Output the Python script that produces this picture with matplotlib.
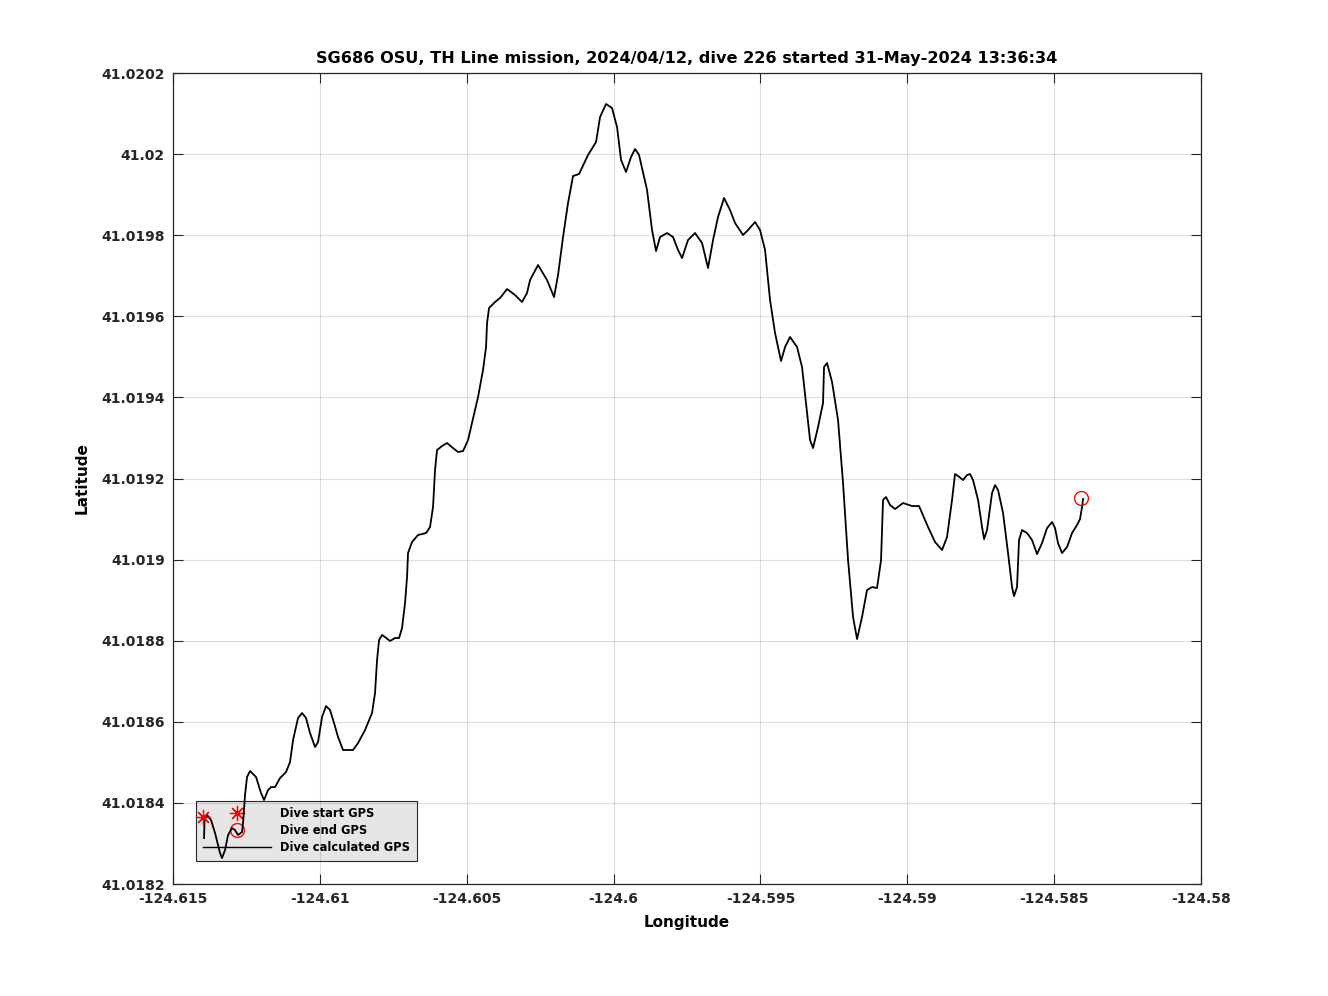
import matplotlib
matplotlib.use("Agg")
import matplotlib.pyplot as plt
from matplotlib.lines import Line2D

# glider track (dive calculated GPS)
lon = [
    -124.613945, -124.613928, -124.613842, -124.613706, -124.613570, -124.613400,
    -124.613332, -124.613230, -124.613127, -124.612991, -124.612889, -124.612787,
    -124.612651, -124.612617, -124.612549, -124.612481, -124.612378, -124.612174,
    -124.612004, -124.611902, -124.611766, -124.611663, -124.611527, -124.611357,
    -124.611153, -124.611017, -124.610914, -124.610744, -124.610608, -124.610472,
    -124.610336, -124.610165, -124.610063, -124.609927, -124.609791, -124.609655,
    -124.609519, -124.609382, -124.609212, -124.608872, -124.608701, -124.608463,
    -124.608225, -124.608123, -124.608054, -124.607986, -124.607884, -124.607782,
    -124.607612, -124.607442, -124.607305, -124.607203, -124.607101, -124.607033,
    -124.606999, -124.606863, -124.606659, -124.606386, -124.606250, -124.606148,
    -124.606080, -124.606012, -124.605841, -124.605671, -124.605467, -124.605297,
    -124.605126, -124.604956, -124.604820, -124.604616, -124.604446, -124.604343,
    -124.604309, -124.604241, -124.604037, -124.603867, -124.603628, -124.603356,
    -124.603118, -124.602948, -124.602845, -124.602573, -124.602267, -124.602028,
    -124.601892, -124.601722, -124.601552, -124.601381, -124.601177, -124.600871,
    -124.600598, -124.600462, -124.600258, -124.600054, -124.599883, -124.599747,
    -124.599577, -124.599407, -124.599270, -124.599134, -124.598862, -124.598692,
    -124.598555, -124.598419, -124.598181, -124.597977, -124.597806, -124.597670,
    -124.597466, -124.597228, -124.596989, -124.596785, -124.596615, -124.596445,
    -124.596240, -124.596036, -124.595866, -124.595593, -124.595423, -124.595185,
    -124.595015, -124.594844, -124.594674, -124.594504, -124.594300, -124.594163,
    -124.593993, -124.593755, -124.593585, -124.593414, -124.593312, -124.593210,
    -124.593040, -124.592870, -124.592836, -124.592733, -124.592563, -124.592359,
    -124.592189, -124.592018, -124.591848, -124.591712, -124.591542, -124.591372,
    -124.591201, -124.591031, -124.590895, -124.590827, -124.590725, -124.590589,
    -124.590418, -124.590146, -124.589840, -124.589601, -124.589295, -124.589056,
    -124.588818, -124.588648, -124.588478, -124.588376, -124.588273, -124.588103,
    -124.587967, -124.587865, -124.587763, -124.587592, -124.587456, -124.587388,
    -124.587286, -124.587116, -124.587014, -124.586911, -124.586741, -124.586571,
    -124.586435, -124.586367, -124.586265, -124.586197, -124.586094, -124.585924,
    -124.585754, -124.585584, -124.585413, -124.585243, -124.585073, -124.584971,
    -124.584869, -124.584733, -124.584562, -124.584392, -124.584222, -124.584120,
    -124.584052, -124.584017,
]
lat = [
    41.0183134, 41.0183578, 41.0183702, 41.0183578, 41.0183258, 41.0182764,
    41.0182641, 41.0182838, 41.0183208, 41.0183381, 41.0183332, 41.0183208,
    41.0183282, 41.0183504, 41.0184195, 41.0184639, 41.0184787, 41.0184639,
    41.0184244, 41.0184072, 41.0184318, 41.0184392, 41.0184392, 41.0184614,
    41.0184762, 41.0185009, 41.0185551, 41.0186094, 41.0186217, 41.0186094,
    41.0185724, 41.0185379, 41.0185502, 41.0186118, 41.0186390, 41.0186291,
    41.0185970, 41.0185625, 41.0185305, 41.0185305, 41.0185477, 41.0185798,
    41.0186217, 41.0186710, 41.0187524, 41.0188017, 41.0188141, 41.0188091,
    41.0187993, 41.0188067, 41.0188067, 41.0188313, 41.0188930, 41.0189571,
    41.0190163, 41.0190434, 41.0190607, 41.0190656, 41.0190804, 41.0191297,
    41.0192210, 41.0192703, 41.0192801, 41.0192875, 41.0192752, 41.0192654,
    41.0192678, 41.0192949, 41.0193369, 41.0194010, 41.0194676, 41.0195243,
    41.0195835, 41.0196205, 41.0196353, 41.0196451, 41.0196673, 41.0196525,
    41.0196353, 41.0196575, 41.0196895, 41.0197265, 41.0196895, 41.0196476,
    41.0197019, 41.0197956, 41.0198794, 41.0199460, 41.0199509, 41.0199978,
    41.0200298, 41.0200915, 41.0201236, 41.0201137, 41.0200668, 41.0199855,
    41.0199559, 41.0199929, 41.0200126, 41.0199978, 41.0199115, 41.0198128,
    41.0197610, 41.0197956, 41.0198054, 41.0197956, 41.0197635, 41.0197438,
    41.0197882, 41.0198054, 41.0197808, 41.0197191, 41.0197882, 41.0198449,
    41.0198917, 41.0198621, 41.0198301, 41.0198005, 41.0198128, 41.0198326,
    41.0198128, 41.0197635, 41.0196402, 41.0195588, 41.0194898, 41.0195243,
    41.0195490, 41.0195243, 41.0194750, 41.0193615, 41.0192949, 41.0192752,
    41.0193270, 41.0193862, 41.0194750, 41.0194848, 41.0194380, 41.0193443,
    41.0191889, 41.0189990, 41.0188585, 41.0188042, 41.0188585, 41.0189250,
    41.0189324, 41.0189300, 41.0189990, 41.0191470, 41.0191544, 41.0191347,
    41.0191248, 41.0191396, 41.0191322, 41.0191322, 41.0190804, 41.0190434,
    41.0190237, 41.0190557, 41.0191470, 41.0192111, 41.0192062, 41.0191963,
    41.0192086, 41.0192111, 41.0191963, 41.0191470, 41.0190804, 41.0190508,
    41.0190730, 41.0191642, 41.0191840, 41.0191716, 41.0191149, 41.0190163,
    41.0189324, 41.0189102, 41.0189324, 41.0190483, 41.0190730, 41.0190656,
    41.0190483, 41.0190138, 41.0190409, 41.0190779, 41.0190927, 41.0190779,
    41.0190409, 41.0190163, 41.0190311, 41.0190656, 41.0190853, 41.0191001,
    41.0191297, 41.0191494,
]

start_gps = (-124.613979, 41.0183652)
end_gps = (-124.584086, 41.0191519)

xticks = [-124.615, -124.61, -124.605, -124.6, -124.595, -124.59, -124.585, -124.58]
xticklabels = ['-124.615', '-124.61', '-124.605', '-124.6', '-124.595', '-124.59', '-124.585', '-124.58']
yticks = [41.0182, 41.0184, 41.0186, 41.0188, 41.019, 41.0192, 41.0194, 41.0196, 41.0198, 41.02, 41.0202]
yticklabels = ['41.0182', '41.0184', '41.0186', '41.0188', '41.019', '41.0192', '41.0194', '41.0196', '41.0198', '41.02', '41.0202']

title = 'SG686 OSU, TH Line mission, 2024/04/12, dive 226 started 31-May-2024 13:36:34'

plt.rcParams['font.family'] = ['DejaVu Sans']
plt.rcParams['font.weight'] = 'bold'

fig = plt.figure(figsize=(13.28, 9.96), dpi=100)
ax = fig.add_axes([0.1303, 0.1124, 0.7741, 0.8143])

dark = '#262626'
star = (8, 2, 0)

ax.plot(lon, lat, color='black', lw=1.3, zorder=3, solid_joinstyle='round')
ax.plot(*start_gps, ls='none', marker=star, ms=11, mec='red', mew=0.9, zorder=4)
ax.plot(*end_gps, ls='none', marker='o', ms=10, mfc='none', mec='red', mew=1.0, zorder=4)

ax.set_xlim(xticks[0], xticks[-1])
ax.set_ylim(yticks[0], yticks[-1])
ax.set_xticks(xticks)
ax.set_xticklabels(xticklabels)
ax.set_yticks(yticks)
ax.set_yticklabels(yticklabels)

ax.grid(True, color=dark, alpha=0.15, lw=0.8)
ax.set_axisbelow(False)
ax.tick_params(direction='in', length=7, width=0.8, color=dark, labelcolor=dark,
               top=True, right=True, labelsize=10, pad=6)
for s in ax.spines.values():
    s.set_color(dark)
    s.set_linewidth(0.9)

ax.set_title(title, fontsize=11.6, fontweight='bold', pad=7)
ax.set_xlabel('Longitude', fontsize=11, fontweight='bold', labelpad=6)
ax.set_ylabel('Latitude', fontsize=11, fontweight='bold', labelpad=8)

handles = [
    Line2D([], [], ls='none', marker=star, ms=11, mec='red', mew=0.9),
    Line2D([], [], ls='none', marker='o', ms=10, mfc='none', mec='red', mew=1.0),
    Line2D([], [], color='black', lw=1.0),
]
labels = ['Dive start GPS', 'Dive end GPS', 'Dive calculated GPS']
leg = ax.legend(handles, labels, loc='lower left', bbox_to_anchor=(0.0224, 0.0284),
                borderaxespad=0, fontsize=8.3, handlelength=5.9, handletextpad=0.75,
                labelspacing=0.33, borderpad=0.6, fancybox=False, framealpha=1,
                facecolor='#e6e6e6', edgecolor=dark, numpoints=1)
leg.get_frame().set_linewidth(0.8)
for t in leg.get_texts():
    t.set_fontweight('bold')
leg.set_zorder(1)

fig.savefig('out.png', dpi=100)
